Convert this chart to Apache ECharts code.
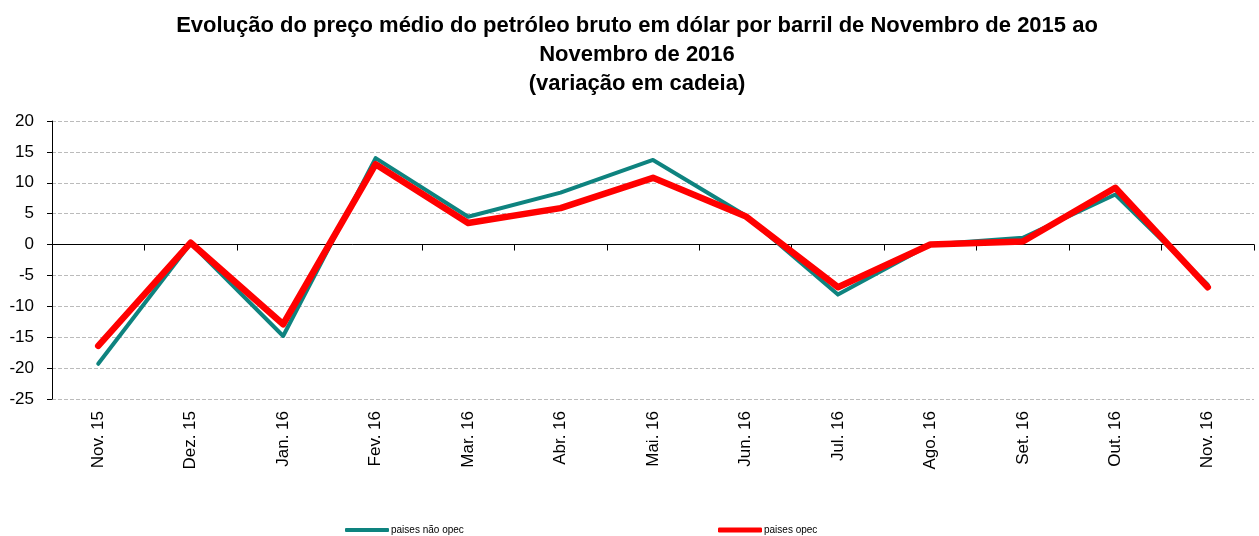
<!DOCTYPE html>
<html>
<head>
<meta charset="utf-8">
<script src="https://cdn.jsdelivr.net/npm/echarts@6/dist/echarts.min.js"></script>
<style>
  html, body { margin: 0; padding: 0; background: #fff; }
  #chart { width: 1259px; height: 536px; }
</style>
</head>
<body>
<div id="chart"></div>
<script>
var categories = ['Nov. 15', 'Dez. 15', 'Jan. 16', 'Fev. 16', 'Mar. 16', 'Abr. 16', 'Mai. 16',
    'Jun. 16', 'Jul. 16', 'Ago. 16', 'Set. 16', 'Out. 16', 'Nov. 16'];
var naoOpec = [-19.3, 0.2, -14.8, 14.0, 4.5, 8.4, 13.7, 4.7, -8.1, 0.0, 1.1, 8.1, -6.5];
var opec = [-16.4, 0.3, -12.9, 13.0, 3.5, 5.9, 10.8, 4.6, -6.9, 0.0, 0.5, 9.2, -6.9];

var narrow = '"Liberation Sans Narrow", "Arial Narrow", "Liberation Sans", Arial, sans-serif';
var sans = '"Liberation Sans", Arial, sans-serif';

var chart = echarts.init(document.getElementById('chart'));
chart.setOption({
    animation: false,
    backgroundColor: '#fff',
    title: {
        text: 'Evolução do preço médio do petróleo bruto em dólar por barril de Novembro de 2015 ao\nNovembro de 2016\n(variação em cadeia)',
        left: 632,
        textAlign: 'center',
        top: 6,
        textStyle: {
            fontFamily: narrow,
            fontWeight: 'bold',
            fontSize: 22,
            lineHeight: 29,
            color: '#000'
        }
    },
    legend: [{
        data: ['paises não opec'],
        left: 340,
        top: 520,
        icon: 'roundRect',
        itemWidth: 44,
        itemHeight: 4,
        itemGap: 2,
        textStyle: { fontFamily: narrow, fontSize: 10, color: '#000', padding: [0, 0, 0, -3] }
    }, {
        data: ['paises opec'],
        left: 713,
        top: 520,
        icon: 'roundRect',
        itemWidth: 44,
        itemHeight: 5,
        textStyle: { fontFamily: narrow, fontSize: 10, color: '#000', padding: [0, 0, 0, -3] }
    }],
    grid: { left: 52, right: 5, top: 121, bottom: 137, outerBoundsMode: 'none', containLabel: false },
    xAxis: {
        type: 'category',
        data: categories,
        boundaryGap: true,
        axisLine: { onZero: true, lineStyle: { color: '#000', width: 1 } },
        axisTick: { show: true, length: 6, inside: false, lineStyle: { color: '#000' } },
        axisLabel: {
            rotate: 90,
            interval: 0,
            fontFamily: sans,
            fontSize: 17,
            color: '#000',
            margin: 12
        },
        splitLine: { show: false }
    },
    yAxis: {
        type: 'value',
        min: -25,
        max: 20,
        interval: 5,
        axisLine: { show: true, lineStyle: { color: '#000', width: 1 } },
        axisTick: { show: true, length: 5, lineStyle: { color: '#000' } },
        axisLabel: { fontFamily: sans, fontSize: 17, color: '#000', margin: 18 },
        splitLine: { show: true, lineStyle: { color: '#bbb', type: [4, 2], width: 1 } }
    },
    series: [{
        name: 'paises não opec',
        type: 'line',
        data: naoOpec,
        symbol: 'none',
        color: '#0e837f',
        lineStyle: { width: 4, color: '#0e837f', cap: 'round', join: 'round' },
        z: 2
    }, {
        name: 'paises opec',
        type: 'line',
        data: opec,
        symbol: 'none',
        color: '#ff0000',
        lineStyle: { width: 6.5, color: '#ff0000', cap: 'round', join: 'round' },
        z: 3
    }]
});
</script>
</body>
</html>
